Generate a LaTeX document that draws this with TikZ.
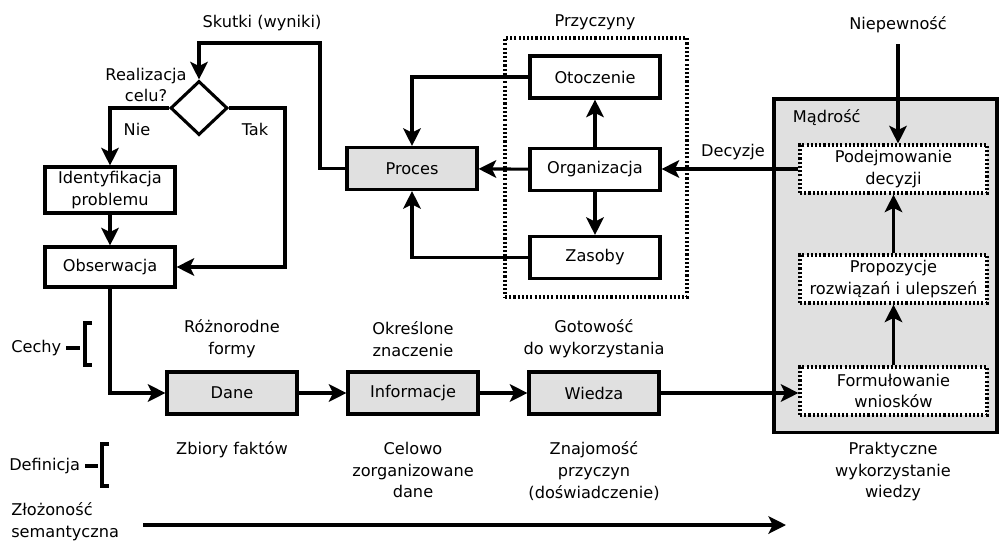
\documentclass[tikz,border=0pt]{standalone}
\usepackage{fontspec}
\setmainfont{DejaVu Sans}
\usetikzlibrary{positioning, shapes.geometric, arrows.meta}

\definecolor{boxgray}{HTML}{E0E0E0}

\tikzset{
  box/.style={draw, line width=2.2pt, minimum width=3.25cm, minimum height=1.05cm, align=center, inner sep=2pt},
  graybox/.style={box, fill=boxgray},
  dotbox/.style={draw, line width=2.2pt, dash pattern=on 1.5pt off 1.5pt, fill=white, minimum width=4.675cm, minimum height=1.2cm, align=center, inner sep=1pt},
  lbl/.style={align=center},
  arr/.style={line width=2.2pt, -{Stealth[length=12.5pt, width=12.5pt, inset=3pt]}},
  brk/.style={line width=2.2pt}
}

\begin{document}
\begin{tikzpicture}[x=0.025cm, y=0.025cm, font=\fontsize{11.5}{15.5}\selectfont]
\useasboundingbox (0,0) rectangle (1001,-542);

% containers
\node[draw, line width=2.2pt, fill=boxgray, minimum width=5.575cm, minimum height=8.325cm] (madr) at (885.5,-265.5) {};
\node[anchor=west] (madrl) at (788,-118) {Mądrość};
\node[draw, line width=2.2pt, dash pattern=on 1.5pt off 1.5pt, minimum width=4.55cm, minimum height=6.475cm] (przycz) at (596,-167.5) {};
\node (przyczl) at (595,-22) {Przyczyny};

% decision loop
\node[draw, diamond, line width=2.2pt, minimum width=1.425cm, minimum height=1.35cm, inner sep=0pt] (dia) at (199,-108) {};
\node[lbl] (real) at (146,-85) {Realizacja\\celu?};
\node (skut) at (262,-23) {Skutki (wyniki)};
\node[box, minimum height=1.15cm] (ident) at (110,-190) {Identyfikacja\\problemu};
\node[box, minimum height=1cm] (obs) at (110,-267) {Obserwacja};
\node (nie) at (137,-129) {Nie};
\node (tak) at (255,-129) {Tak};

% process and causes
\node[graybox] (proc) at (412,-168.5) {Proces};
\node[box] (oto) at (595,-77) {Otoczenie};
\node[box] (org) at (595,-169.5) {Organizacja};
\node[box] (zas) at (595,-257.5) {Zasoby};

% wisdom
\node (niep) at (898,-25) {Niepewność};
\node[dotbox] (pod) at (893.5,-169) {Podejmowanie\\decyzji};
\node[dotbox] (prop) at (893.5,-279) {Propozycje\\rozwiązań i ulepszeń};
\node[dotbox] (form) at (893.5,-391) {Formułowanie\\wniosków};
\node (decl) at (733,-152) {Decyzje};

% data chain
\node[graybox] (dane) at (232,-393) {Dane};
\node[graybox] (info) at (413,-393) {Informacje};
\node[graybox] (wied) at (594,-393) {Wiedza};

\node[lbl] (cdane) at (232,-339) {Różnorodne\\formy};
\node[lbl] (cinfo) at (413,-339) {Określone\\znaczenie};
\node[lbl] (cwied) at (594,-339) {Gotowość\\do wykorzystania};

\node[lbl, anchor=north] (ddane) at (232,-437) {Zbiory faktów};
\node[lbl, anchor=north] (dinfo) at (413,-437) {Celowo\\zorganizowane\\dane};
\node[lbl, anchor=north] (dwied) at (594,-437) {Znajomość\\przyczyn\\(doświadczenie)};
\node[lbl, anchor=north] (dmadr) at (893,-437) {Praktyczne\\wykorzystanie\\wiedzy};

% left legend
\node[anchor=west, inner sep=0pt] (cechy) at (11,-348) {Cechy};
\draw[brk] (66,-348) -- (80,-348);
\draw[brk] (92,-323) -- (85,-323) -- (85,-365) -- (92,-365);
\node[anchor=west, inner sep=0pt] (defin) at (9,-466) {Definicja};
\draw[brk] (85,-466) -- (98,-466);
\draw[brk] (109,-444) -- (102,-444) -- (102,-486) -- (109,-486);
\node[anchor=north west, align=left, inner sep=0pt] (zloz) at (11,-502) {Złożoność\\semantyczna};
\coordinate (zs) at (143,-525);
\coordinate (ze) at (786,-525);

% connectors
\draw[arr] (proc.west) -| (320,-43) -| (dia.north);
\draw[arr] (dia.west) -| (ident.north);
\draw[arr] (dia.east) -| (285,-200) |- (obs.east);
\draw[arr] (ident) -- (obs);
\draw[arr] (obs.south) |- (dane.west);
\draw[arr] (dane) -- (info);
\draw[arr] (info) -- (wied);
\draw[arr] (wied) -- (form.west |- wied.east);
\draw[arr] (oto.west) -| (proc.north);
\draw[arr] (zas.west) -| (proc.south);
\draw[arr] (org) -- (proc);
\draw[arr] (org) -- (oto);
\draw[arr] (org) -- (zas);
\draw[arr] (pod.west) -- (org.east |- pod.west);
\draw[arr] (niep.south) ++(0,-6) -- (pod.north -| niep.south);
\draw[arr] (form) -- (prop);
\draw[arr] (prop) -- (pod);
\draw[arr] (zs) -- (ze);
\end{tikzpicture}
\end{document}
